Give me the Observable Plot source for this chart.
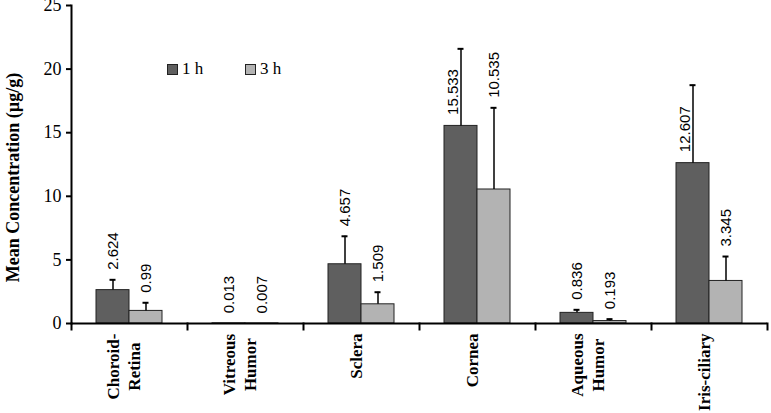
<!DOCTYPE html>
<html><head><meta charset="utf-8">
<script src="https://cdn.jsdelivr.net/npm/d3@7"></script>
<script src="https://cdn.jsdelivr.net/npm/@observablehq/plot@0.6"></script>
<style>
body{margin:0;background:#fff}
#wrap{position:relative;width:771px;height:413px}
.lg{position:absolute;top:62px;font:17px 'Liberation Serif','Times New Roman',serif;color:#000;display:flex;align-items:center;line-height:14px}
.lg span.sw{display:inline-block;width:9px;height:9px;border:1px solid #222;margin-right:4px}
</style></head><body><div id="wrap"></div>
<script>
const categories = ["Choroid-\nRetina","Vitreous\nHumor","Sclera","Cornea","Aqueous\nHumor","Iris-ciliary"];
const series = ["1 h","3 h"];
const mean1h = [2.624,0.013,4.657,15.533,0.836,12.607];
const mean3h = [0.99,0.007,1.509,10.535,0.193,3.345];
const err1h = [0.81,0,2.2,6.06,0.24,6.13];
const err3h = [0.64,0,0.95,6.42,0.15,1.92];
const yTicks = [0,5,10,15,20,25];
const colors = ["#5f5f5f","#b3b3b3"];
const yTitle = "Mean Concentration (\u00b5g/g)";

const data = categories.flatMap((c,i)=>[
  {cat:c, s:series[0], v:mean1h[i], e:err1h[i]},
  {cat:c, s:series[1], v:mean3h[i], e:err3h[i]}
]);
const withErr = data.filter(d=>d.e>0);
const high = data.filter(d=>d.v+d.e>18);
const normal = data.filter(d=>d.v+d.e<=18);

const serifF = "'Liberation Serif', 'Times New Roman', serif";
const sansF = "'Liberation Sans', Arial, sans-serif";

// approximate bold Times advance widths (em) so that the lines of a label are centred on each other
const boldW = {C:.722,h:.556,o:.5,r:.444,i:.278,d:.556,"-":.333,R:.722,e:.444,t:.333,n:.556,a:.5,V:.722,u:.556,s:.389,H:.778,m:.833,S:.556,c:.444,l:.278,A:.722,q:.556,I:.389,y:.5};
const lineW = l => [...l].reduce((a,ch)=>a+(boldW[ch]||.5),0)*17;

// one text mark per label line (no multi-line tspans)
const catMarks = categories.flatMap(c => {
  const lines = c.split("\n");
  const maxW = Math.max(...lines.map(lineW));
  return lines.map((line, j) => Plot.text([c], {
    fx: d=>d, text: () => line, frameAnchor:"bottom", rotate:-90, textAnchor:"middle",
    dx: (j - (lines.length-1)/2) * 21.5, dy: 10 + maxW/2,
    fontWeight:"bold", fontSize:17, fontFamily: serifF, fill:"#000"
  }));
});

const chart = Plot.plot({
  width:771, height:413, marginLeft:68, marginRight:2, marginTop:5, marginBottom:90,
  style:{fontFamily:serifF, fontSize:"18px", color:"#000", background:"#fff", overflow:"visible"},
  fx:{domain:categories, padding:0, axis:null},
  x:{domain:series, paddingInner:0, paddingOuter:0.746, axis:null},
  y:{domain:[0,25], axis:null},
  color:{domain:series, range:colors},
  marks:[
    Plot.barY(data,{fx:"cat", x:"s", y:"v", fill:"s", stroke:"#222", strokeWidth:1}),
    Plot.ruleX(withErr,{fx:"cat", x:"s", y1:"v", y2:d=>d.v+d.e, stroke:"#000", strokeWidth:1.5}),
    Plot.tickY(withErr,{fx:"cat", x:"s", y:d=>d.v+d.e, stroke:"#000", strokeWidth:2, insetLeft:13.5, insetRight:13.5}),
    Plot.text(normal,{fx:"cat", x:"s", y:d=>d.v+d.e, text:d=>String(d.v), rotate:-90, textAnchor:"start",
      dy:-10, fontFamily:sansF, fontSize:15, fill:"#000"}),
    Plot.text(high,{fx:"cat", x:"s", y:"v", text:d=>String(d.v), rotate:-90, textAnchor:"start",
      dy:-11, dx:-8, fontFamily:sansF, fontSize:15, fill:"#000"}),
    Plot.ruleY([0],{stroke:"#000", strokeWidth:2}),
    // category boundary ticks below the x axis (left edge of every facet, right edge of the last)
    Plot.frame({anchor:"left", insetTop:318, insetBottom:-6, stroke:"#000", strokeWidth:2}),
    Plot.frame({anchor:"right", facetAnchor:"right", insetTop:318, insetBottom:-6, stroke:"#000", strokeWidth:2}),
    Plot.axisY({ticks:yTicks, tickSize:5, tickPadding:5, strokeWidth:2, label:null, fontSize:18, facetAnchor:"left"}),
    Plot.frame({anchor:"left", facetAnchor:"left", stroke:"#000", strokeWidth:2}),
    Plot.text([yTitle],{text:d=>d, frameAnchor:"left", facetAnchor:"left", rotate:-90, textAnchor:"middle",
      dx:-58, dy:13, fontWeight:"bold", fontSize:18, fontFamily:serifF, fill:"#000"}),
    ...catMarks
  ]
});
const wrap = document.getElementById("wrap");
wrap.appendChild(chart);

// legend inside the plot area (HTML overlay)
series.forEach((s,i)=>{
  const item = document.createElement("div");
  item.className = "lg";
  item.style.left = (167 + i*78) + "px";
  const sw = document.createElement("span");
  sw.className = "sw";
  sw.style.background = colors[i];
  item.appendChild(sw);
  item.appendChild(document.createTextNode(s));
  wrap.appendChild(item);
});
</script>
</body></html>
